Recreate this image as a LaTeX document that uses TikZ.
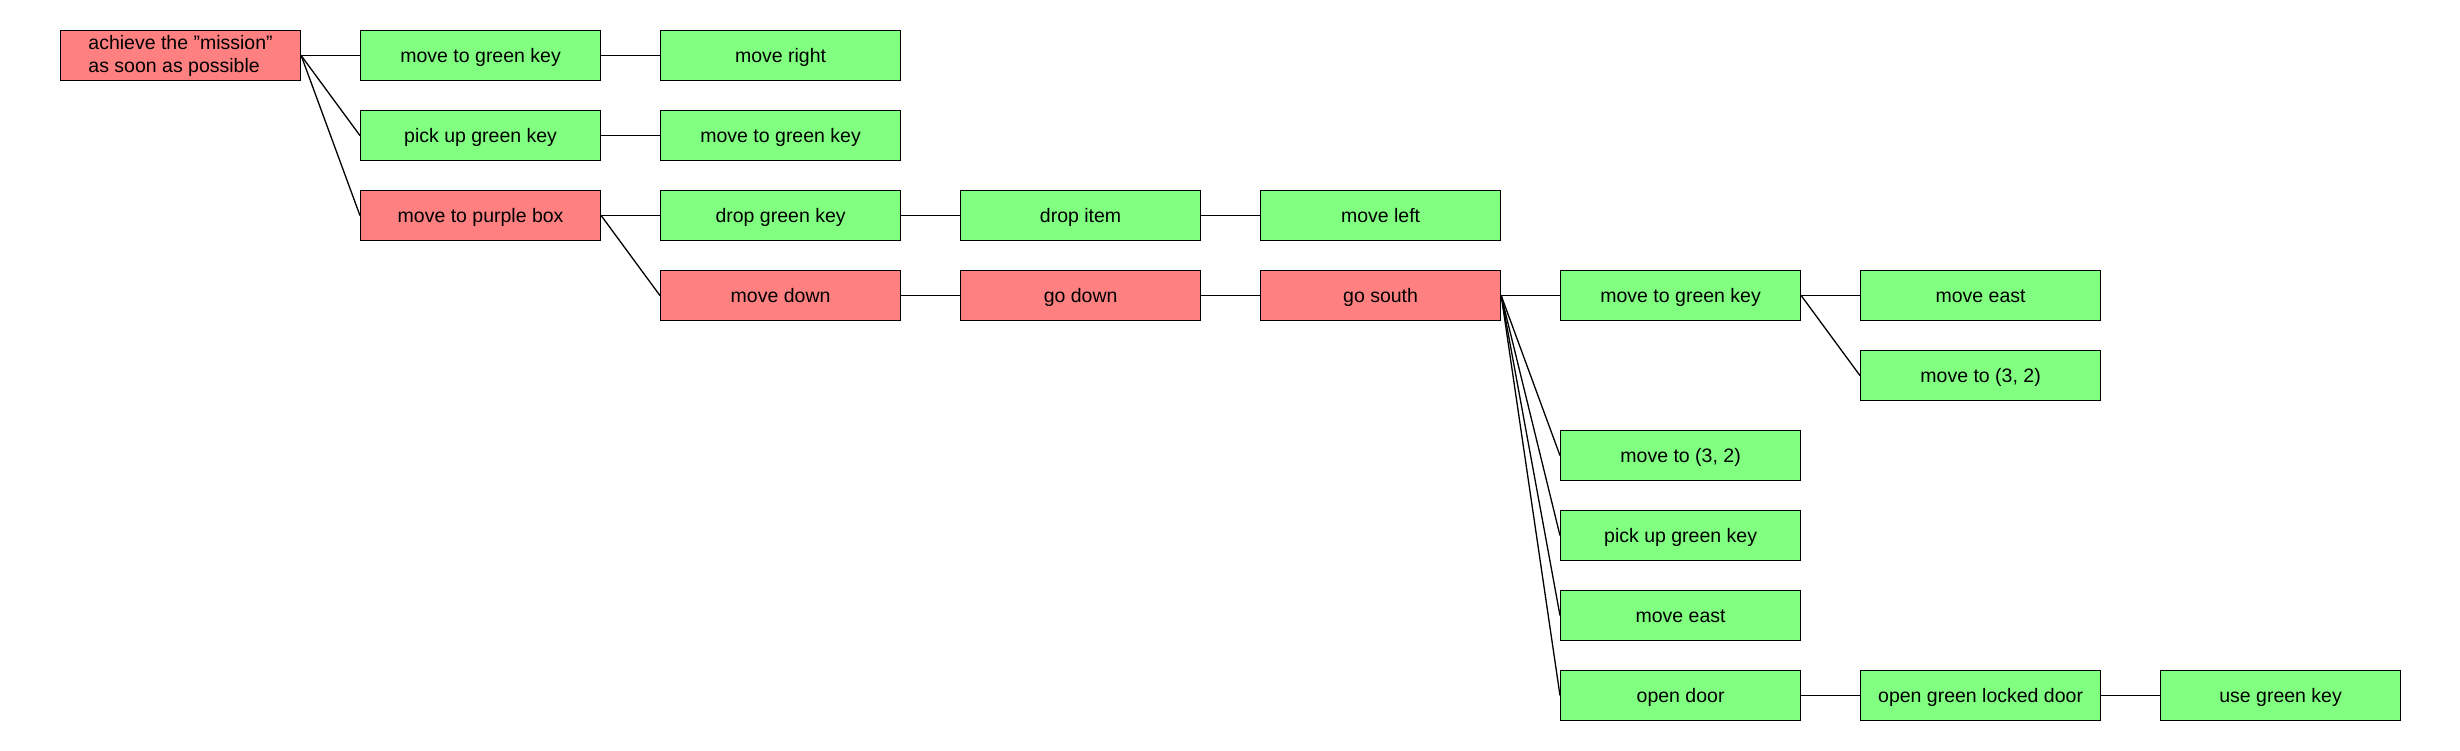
\documentclass[tikz,border=0pt]{standalone}
\usepackage{fontspec}
\setmainfont{Liberation Sans}
\definecolor{redbox}{RGB}{255,128,128}
\definecolor{greenbox}{RGB}{128,255,128}
\begin{document}
\begin{tikzpicture}[x=1pt,y=-1pt,
  basebox/.style={draw=black, line width=1.2pt, minimum width=240pt, minimum height=50pt,
    inner sep=0pt, anchor=north west, font=\fontsize{19.5}{23}\selectfont},
  box/.style={basebox, text height=15pt, text depth=0.4pt},
  rbox/.style={box, fill=redbox},
  gbox/.style={box, fill=greenbox},
  link/.style={draw=black, line width=1.3pt}]
\useasboundingbox (0,0) rectangle (2460,750);
% columns: x = 60 + 300*i ; rows: y = 30 + 80*j
\node[basebox, fill=redbox, align=left] (root) at (60,30) {achieve the "mission"\\as soon as possible};
\node[gbox] (a1) at (360,30) {move to green key};
\node[gbox] (a2) at (360,110) {pick up green key};
\node[rbox] (a3) at (360,190) {move to purple box};
\node[gbox] (b1) at (660,30) {move right};
\node[gbox] (b2) at (660,110) {move to green key};
\node[gbox] (b3) at (660,190) {drop green key};
\node[rbox] (b4) at (660,270) {move down};
\node[gbox] (c3) at (960,190) {drop item};
\node[rbox] (c4) at (960,270) {go down};
\node[gbox] (d3) at (1260,190) {move left};
\node[rbox] (d4) at (1260,270) {go south};
\node[gbox] (e1) at (1560,270) {move to green key};
\node[gbox] (e2) at (1560,430) {move to (3, 2)};
\node[gbox] (e3) at (1560,510) {pick up green key};
\node[gbox] (e4) at (1560,590) {move east};
\node[gbox] (e5) at (1560,670) {open door};
\node[gbox] (f1) at (1860,270) {move east};
\node[gbox] (f2) at (1860,350) {move to (3, 2)};
\node[gbox] (f5) at (1860,670) {open green locked door};
\node[gbox] (g5) at (2160,670) {use green key};
\draw[link] (root.east) -- (a1.west);
\draw[link] (root.east) -- (a2.west);
\draw[link] (root.east) -- (a3.west);
\draw[link] (a1.east) -- (b1.west);
\draw[link] (a2.east) -- (b2.west);
\draw[link] (a3.east) -- (b3.west);
\draw[link] (a3.east) -- (b4.west);
\draw[link] (b3.east) -- (c3.west);
\draw[link] (b4.east) -- (c4.west);
\draw[link] (c3.east) -- (d3.west);
\draw[link] (c4.east) -- (d4.west);
\draw[link] (d4.east) -- (e1.west);
\draw[link] (d4.east) -- (e2.west);
\draw[link] (d4.east) -- (e3.west);
\draw[link] (d4.east) -- (e4.west);
\draw[link] (d4.east) -- (e5.west);
\draw[link] (e1.east) -- (f1.west);
\draw[link] (e1.east) -- (f2.west);
\draw[link] (e5.east) -- (f5.west);
\draw[link] (f5.east) -- (g5.west);
\end{tikzpicture}
\end{document}
